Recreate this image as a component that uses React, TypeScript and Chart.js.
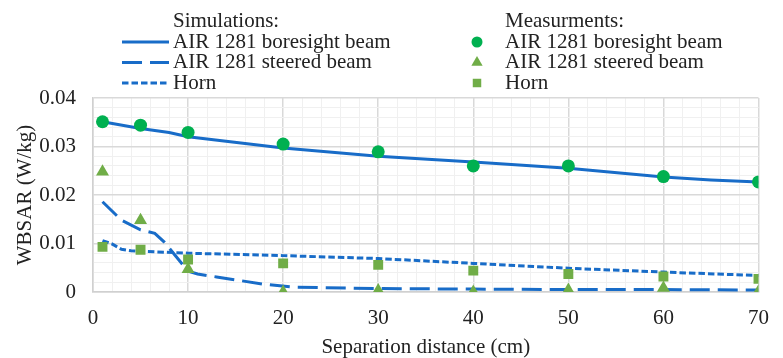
import React, { useEffect, useRef } from "react";
import { Chart, registerables } from "chart.js";
import { drawPoint } from "chart.js/helpers";

Chart.register(...registerables);

// Measurements
const measX = [1, 5, 10, 20, 30, 40, 50, 60, 70];
const measBoresight = [0.0351, 0.0344, 0.0329, 0.0305, 0.0289, 0.026, 0.026, 0.0238, 0.0227];
const measSteered = [0.0248, 0.0148, 0.0047, 0.0, 0.0003, 0.0, 0.0004, 0.0008, 0.0001];
const measHorn = [0.0093, 0.0087, 0.0067, 0.0059, 0.0056, 0.0044, 0.0037, 0.0032, 0.0027];

// Simulations
const simBoresightX = [1, 5, 8, 10, 20, 30, 40, 50, 60, 65, 70];
const simBoresightY = [0.0351, 0.0337, 0.0329, 0.032, 0.0297, 0.028, 0.0268, 0.0255, 0.0237, 0.0231, 0.0227];
const simSteeredX = [1, 3, 5, 6.5, 7.5, 10, 11, 13, 18, 21, 30, 40, 50, 60, 70];
const simSteeredY = [0.0186, 0.0148, 0.0128, 0.0121, 0.0103, 0.0043, 0.0037, 0.0031, 0.0016, 0.001, 0.0007, 0.0006, 0.0005, 0.0005, 0.0004];
const simHornX = [1, 2, 3, 4, 10, 20, 30, 40, 50, 60, 70];
const simHornY = [0.0106, 0.0099, 0.0088, 0.0085, 0.008, 0.0075, 0.0069, 0.0059, 0.0049, 0.0041, 0.0034];

const simHeader = "Simulations:";
const measHeader = "Measurments:";
const seriesNames = ["AIR 1281 boresight beam", "AIR 1281 steered beam", "Horn"];

const xTitle = "Separation distance (cm)";
const yTitle = "WBSAR (W/kg)";

const BLUE = "rgb(24,108,200)";
const GREEN_DARK = "#00b050";
const GREEN = "#70ad47";
const FONT = '"Liberation Serif", "Times New Roman", serif';
const TEXT = "#222222";

const zip = (xs: number[], ys: number[]) => xs.map((x, i) => ({ x, y: ys[i] }));

const legendPlugin = {
  id: "customLegend",
  afterDraw(chart: any) {
    const ctx = chart.ctx;
    ctx.save();
    ctx.font = `21px ${FONT}`;
    ctx.fillStyle = TEXT;
    ctx.textBaseline = "middle";
    ctx.textAlign = "left";
    const rows = [21.5, 42, 62.5, 83];
    const leftText = 173;
    const rightText = 505;
    ctx.fillText(simHeader, leftText, rows[0]);
    ctx.fillText(measHeader, rightText, rows[0]);
    const sims = chart.data.datasets.slice(3, 6);
    const meas = chart.data.datasets.slice(0, 3);
    seriesNames.forEach((name: string, i: number) => {
      const y = rows[i + 1];
      const s = sims[i];
      ctx.save();
      ctx.strokeStyle = s.borderColor;
      ctx.lineWidth = s.borderWidth;
      ctx.setLineDash(s.borderDash || []);
      ctx.beginPath();
      ctx.moveTo(122, y);
      ctx.lineTo(169, y);
      ctx.stroke();
      ctx.restore();
      ctx.fillStyle = TEXT;
      ctx.fillText(name, leftText, y);
      const m = meas[i];
      ctx.save();
      ctx.fillStyle = m.pointBackgroundColor;
      ctx.strokeStyle = m.pointBackgroundColor;
      drawPoint(ctx, { pointStyle: m.pointStyle, radius: m.pointRadius - 1, rotation: 0, borderWidth: 0 }, 477, y);
      ctx.restore();
      ctx.fillStyle = TEXT;
      ctx.fillText(name, rightText, y);
    });
    ctx.restore();
  },
};

export default function App() {
  const ref = useRef<HTMLCanvasElement | null>(null);
  useEffect(() => {
    document.body.style.margin = "0";
    const canvas = ref.current!;
    const chart = new Chart(canvas, {
      type: "scatter",
      data: {
        datasets: [
          {
            label: seriesNames[0],
            data: zip(measX, measBoresight),
            showLine: false,
            pointStyle: "circle",
            pointRadius: 6.5,
            pointBackgroundColor: GREEN_DARK,
            pointBorderWidth: 0,
          },
          {
            label: seriesNames[1],
            data: zip(measX, measSteered),
            showLine: false,
            pointStyle: "triangle",
            pointRadius: 7.5,
            pointBackgroundColor: GREEN,
            pointBorderWidth: 0,
          },
          {
            label: seriesNames[2],
            data: zip(measX, measHorn),
            showLine: false,
            pointStyle: "rect",
            pointRadius: 7,
            pointBackgroundColor: GREEN,
            pointBorderWidth: 0,
          },
          {
            label: seriesNames[0],
            data: zip(simBoresightX, simBoresightY),
            showLine: true,
            borderColor: BLUE,
            borderWidth: 3,
            pointRadius: 0,
            tension: 0,
          },
          {
            label: seriesNames[1],
            data: zip(simSteeredX, simSteeredY),
            showLine: true,
            borderColor: BLUE,
            borderWidth: 3,
            borderDash: [20, 8],
            pointRadius: 0,
            tension: 0,
          },
          {
            label: seriesNames[2],
            data: zip(simHornX, simHornY),
            showLine: true,
            borderColor: BLUE,
            borderWidth: 3,
            borderDash: [6.5, 3],
            pointRadius: 0,
            tension: 0,
          },
        ] as any,
      },
      options: {
        animation: false,
        responsive: true,
        maintainAspectRatio: false,
        layout: { padding: { top: 98, right: 12, left: 0, bottom: 0 } },
        plugins: { legend: { display: false }, tooltip: { enabled: false } },
        scales: {
          x: {
            type: "linear",
            min: 0,
            max: 70,
            afterFit: (s: any) => {
              s.height = 66;
            },
            ticks: {
              stepSize: 2,
              autoSkip: false,
              maxRotation: 0,
              padding: 14,
              color: TEXT,
              font: { family: FONT, size: 21 },
              callback: (v: any) => (Math.round(v) % 10 === 0 ? String(v) : ""),
            },
            grid: {
              drawTicks: false,
              color: (c: any) => (Math.round(c.tick.value) % 10 === 0 ? "#d9d9d9" : "#f0f0f0"),
              lineWidth: (c: any) => (Math.round(c.tick.value) % 10 === 0 ? 1.5 : 1),
            },
            border: { display: true, color: "#d0d0d0", width: 1.5 },
            title: {
              display: true,
              text: xTitle,
              color: TEXT,
              font: { family: FONT, size: 21, lineHeight: 1 },
              padding: { top: 0, bottom: 0 },
            },
          },
          y: {
            type: "linear",
            min: 0,
            max: 0.04,
            afterFit: (s: any) => {
              s.width = 93;
            },
            ticks: {
              stepSize: 0.002,
              autoSkip: false,
              padding: 17,
              color: TEXT,
              font: { family: FONT, size: 21 },
              callback: (v: any) => {
                const k = Math.round(v * 1000);
                if (k % 10 !== 0) return "";
                return k === 0 ? "0" : (k / 1000).toFixed(2);
              },
            },
            grid: {
              drawTicks: false,
              color: (c: any) => (Math.round(c.tick.value * 1000) % 10 === 0 ? "#d9d9d9" : "#f0f0f0"),
              lineWidth: (c: any) => (Math.round(c.tick.value * 1000) % 10 === 0 ? 1.5 : 1),
            },
            border: { display: true, color: "#d0d0d0", width: 1.5 },
            title: {
              display: true,
              text: yTitle,
              color: TEXT,
              font: { family: FONT, size: 21, lineHeight: 1 },
              padding: { top: 15, bottom: 0 },
            },
          },
        },
      } as any,
      plugins: [legendPlugin],
    });
    return () => chart.destroy();
  }, []);
  return (
    <div style={{ position: "absolute", left: 0, top: 0, width: 783, height: 358 }}>
      <canvas ref={ref} />
    </div>
  );
}
